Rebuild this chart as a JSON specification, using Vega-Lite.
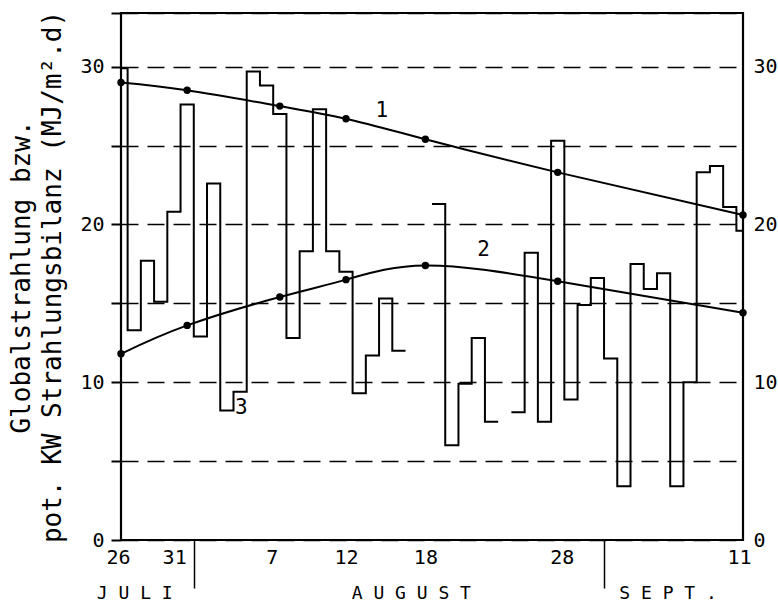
{
  "$schema": "https://vega.github.io/schema/vega-lite/v6.json",
  "width": 622,
  "height": 527,
  "autosize": {"type": "none"},
  "padding": {"left": 121, "top": 13, "right": 35, "bottom": 63},
  "background": "white",
  "config": {
    "view": {"stroke": "black", "strokeWidth": 2.2},
    "font": "DejaVu Sans Mono",
    "axis": {
      "labelColor": "black",
      "labelFont": "DejaVu Sans Mono",
      "labelFontSize": 20,
      "titleColor": "black",
      "titleFont": "DejaVu Sans Mono",
      "titleFontWeight": "normal",
      "tickColor": "black",
      "domain": false,
      "grid": false,
      "labelOverlap": false
    }
  },
  "datasets": {
    "steps": [
      {"t": -0.5, "v": 29.9, "seg": 1},
      {"t": 0.5, "v": 13.3, "seg": 1},
      {"t": 1.5, "v": 17.7, "seg": 1},
      {"t": 2.5, "v": 15.1, "seg": 1},
      {"t": 3.5, "v": 20.8, "seg": 1},
      {"t": 4.5, "v": 27.6, "seg": 1},
      {"t": 5.5, "v": 12.9, "seg": 1},
      {"t": 6.5, "v": 22.6, "seg": 1},
      {"t": 7.5, "v": 8.2, "seg": 1},
      {"t": 8.5, "v": 9.4, "seg": 1},
      {"t": 9.5, "v": 29.7, "seg": 1},
      {"t": 10.5, "v": 28.8, "seg": 1},
      {"t": 11.5, "v": 27.0, "seg": 1},
      {"t": 12.5, "v": 12.8, "seg": 1},
      {"t": 13.5, "v": 18.3, "seg": 1},
      {"t": 14.5, "v": 27.3, "seg": 1},
      {"t": 15.5, "v": 18.3, "seg": 1},
      {"t": 16.5, "v": 17.0, "seg": 1},
      {"t": 17.5, "v": 9.3, "seg": 1},
      {"t": 18.5, "v": 11.7, "seg": 1},
      {"t": 19.5, "v": 15.3, "seg": 1},
      {"t": 20.5, "v": 12.0, "seg": 1},
      {"t": 21.5, "v": 12.0, "seg": 1},
      {"t": 23.5, "v": 21.3, "seg": 2},
      {"t": 24.5, "v": 6.0, "seg": 2},
      {"t": 25.5, "v": 9.9, "seg": 2},
      {"t": 26.5, "v": 12.8, "seg": 2},
      {"t": 27.5, "v": 7.5, "seg": 2},
      {"t": 28.5, "v": 7.5, "seg": 2},
      {"t": 29.5, "v": 8.1, "seg": 3},
      {"t": 30.5, "v": 18.2, "seg": 3},
      {"t": 31.5, "v": 7.5, "seg": 3},
      {"t": 32.5, "v": 25.3, "seg": 3},
      {"t": 33.5, "v": 8.9, "seg": 3},
      {"t": 34.5, "v": 14.9, "seg": 3},
      {"t": 35.5, "v": 16.6, "seg": 3},
      {"t": 36.5, "v": 11.5, "seg": 3},
      {"t": 37.5, "v": 3.4, "seg": 3},
      {"t": 38.5, "v": 17.5, "seg": 3},
      {"t": 39.5, "v": 15.9, "seg": 3},
      {"t": 40.5, "v": 16.9, "seg": 3},
      {"t": 41.5, "v": 3.4, "seg": 3},
      {"t": 42.5, "v": 10.0, "seg": 3},
      {"t": 43.5, "v": 23.3, "seg": 3},
      {"t": 44.5, "v": 23.7, "seg": 3},
      {"t": 45.5, "v": 21.1, "seg": 3},
      {"t": 46.5, "v": 19.6, "seg": 3},
      {"t": 47.5, "v": 19.6, "seg": 3}
    ],
    "curves": [
      {"day": 0, "v": 29.0, "curve": "1"},
      {"day": 5, "v": 28.5, "curve": "1"},
      {"day": 12, "v": 27.5, "curve": "1"},
      {"day": 17, "v": 26.7, "curve": "1"},
      {"day": 23, "v": 25.4, "curve": "1"},
      {"day": 33, "v": 23.3, "curve": "1"},
      {"day": 47, "v": 20.6, "curve": "1"},
      {"day": 0, "v": 11.8, "curve": "2"},
      {"day": 5, "v": 13.6, "curve": "2"},
      {"day": 12, "v": 15.4, "curve": "2"},
      {"day": 17, "v": 16.5, "curve": "2"},
      {"day": 23, "v": 17.4, "curve": "2"},
      {"day": 33, "v": 16.4, "curve": "2"},
      {"day": 47, "v": 14.4, "curve": "2"}
    ],
    "labels": [
      {"day": 19.7, "v": 27.2, "text": "1"},
      {"day": 27.4, "v": 18.4, "text": "2"},
      {"day": 9.1, "v": 8.35, "text": "3"}
    ]
  },
  "layer": [
    {
      "data": {"name": "steps"},
      "mark": {"type": "line", "interpolate": "step-after", "color": "black", "strokeWidth": 2, "clip": true},
      "encoding": {
        "x": {
          "field": "t", "type": "quantitative",
          "scale": {"domain": [0, 47], "nice": false, "zero": false},
          "axis": {
            "orient": "bottom",
            "values": [0, 5, 12, 17, 23, 33, 47],
            "ticks": false,
            "labelFlush": false,
            "labelPadding": 7,
            "labelExpr": "datum.value == 0 ? '26' : datum.value == 5 ? '31' : datum.value == 12 ? '7' : datum.value == 17 ? '12' : datum.value == 23 ? '18' : datum.value == 33 ? '28' : '11'",
            "labelOffset": {"condition": [
              {"test": "datum.value == 5", "value": -13},
              {"test": "datum.value == 12", "value": -8},
              {"test": "datum.value == 0", "value": -3},
              {"test": "datum.value == 47", "value": -4},
              {"test": "datum.value == 33", "value": 4}
            ], "value": 0},
            "title": null
          }
        },
        "y": {
          "field": "v", "type": "quantitative",
          "scale": {"domain": [0, 33.4], "nice": false},
          "axis": {
            "orient": "left",
            "values": [0, 5, 10, 15, 20, 25, 30, 33.4],
            "grid": true,
            "gridColor": "black",
            "gridDash": [17, 9],
            "gridWidth": 1.7,
            "ticks": true,
            "tickSize": 10,
            "tickWidth": 2,
            "labelPadding": 7,
            "labelExpr": "datum.value % 10 == 0 ? datum.label : ''",
            "title": ["Globalstrahlung bzw.", "pot. KW Strahlungsbilanz (MJ/m².d)"],
            "titleFontSize": 26,
            "titleLineHeight": 31,
            "titlePadding": 14
          }
        },
        "detail": {"field": "seg"}
      }
    },
    {
      "data": {"name": "curves"},
      "mark": {"type": "line", "interpolate": "natural", "color": "black", "strokeWidth": 2},
      "encoding": {
        "x": {
          "field": "day", "type": "quantitative",
          "scale": {"domain": [0, 47], "nice": false, "zero": false},
          "axis": {
            "orient": "bottom",
            "values": [5.5, 36.5],
            "labels": false,
            "ticks": true,
            "tickSize": 48,
            "tickWidth": 1.5,
            "title": null
          }
        },
        "y": {
          "field": "v", "type": "quantitative",
          "scale": {"domain": [0, 33.4], "nice": false},
          "axis": {
            "orient": "right",
            "values": [0, 10, 20, 30],
            "ticks": false,
            "labelPadding": 10,
            "title": null
          }
        },
        "detail": {"field": "curve"}
      }
    },
    {
      "data": {"name": "curves"},
      "mark": {"type": "point", "filled": true, "color": "black", "size": 55, "opacity": 1},
      "encoding": {
        "x": {
          "field": "day", "type": "quantitative",
          "scale": {"domain": [0, 47], "nice": false, "zero": false},
          "axis": {
            "orient": "bottom",
            "values": [1, 21.9, 41.3],
            "ticks": false,
            "labelFlush": false,
            "labelPadding": 44,
            "labelFontSize": 18,
            "labelExpr": "datum.value < 5 ? 'J U L I' : datum.value < 30 ? 'A U G U S T' : 'S E P T .'",
            "title": null
          }
        },
        "y": {"field": "v", "type": "quantitative", "scale": {"domain": [0, 33.4], "nice": false}, "axis": null}
      }
    },
    {
      "data": {"name": "labels"},
      "mark": {"type": "text", "font": "DejaVu Sans Mono", "fontSize": 21, "color": "black", "baseline": "middle", "align": "center"},
      "encoding": {
        "x": {"field": "day", "type": "quantitative", "scale": {"domain": [0, 47], "nice": false, "zero": false}, "axis": null},
        "y": {"field": "v", "type": "quantitative", "scale": {"domain": [0, 33.4], "nice": false}, "axis": null},
        "text": {"field": "text"}
      }
    }
  ],
  "resolve": {"axis": {"x": "independent", "y": "independent"}}
}
